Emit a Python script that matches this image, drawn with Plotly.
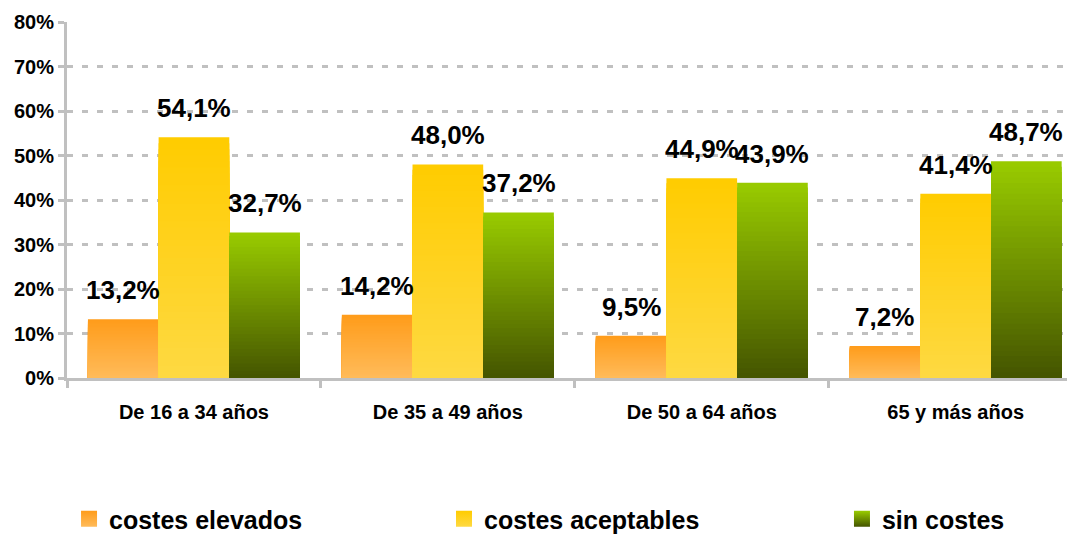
import plotly.graph_objects as go

# ---- data ----
categories = ["De 16 a 34 años", "De 35 a 49 años", "De 50 a 64 años", "65 y más años"]
series_names = ["costes elevados", "costes aceptables", "sin costes"]
costes_elevados = [13.2, 14.2, 9.5, 7.2]
costes_aceptables = [54.1, 48.0, 44.9, 41.4]
sin_costes = [32.7, 37.2, 43.9, 48.7]
y_tick_values = [0, 10, 20, 30, 40, 50, 60, 70, 80]
y_tick_labels = ["0%", "10%", "20%", "30%", "40%", "50%", "60%", "70%", "80%"]

# ---- styles ----
FONT = "Liberation Sans, Arial, sans-serif"
top_colors = [(255, 156, 26), (255, 204, 0), (153, 204, 0)]
bottom_colors = [(255, 187, 90), (254, 217, 66), (68, 84, 0)]
legend_ids = ["legend", "legend2", "legend3"]
legend_x = [0.0572, 0.4086, 0.7816]
N_SLICES = 40
BAR_PX = 70.7
FIG_W, FIG_H = 1067, 528  # page body adds an 8px offset

def mix(c1, c2, t):
    return "rgb(%d,%d,%d)" % tuple(round(a + (b - a) * t) for a, b in zip(c1, c2))

fig = go.Figure()
all_series = [costes_elevados, costes_aceptables, sin_costes]
for si, (name, vals) in enumerate(zip(series_names, all_series)):
    top, bot = top_colors[si], bottom_colors[si]
    # overlapping layers (tallest first) to build a vertical gradient without seams
    for k in range(N_SLICES - 1, -1, -1):
        frac = (k + 1) / N_SLICES
        t = (k + 0.5) / N_SLICES
        fig.add_trace(go.Bar(
            x=categories,
            y=[v * frac for v in vals],
            offsetgroup=name,
            marker=dict(color=mix(bot, top, t), line=dict(width=0)),
            showlegend=False,
            hoverinfo="skip",
        ))
    # legend entry
    fig.add_trace(go.Scatter(
        x=[None], y=[None], mode="markers", name=name,
        marker=dict(symbol="square", size=16, color=mix(top, top, 0),
                    gradient=dict(type="vertical", color=mix(bot, bot, 0))),
        legend=legend_ids[si],
    ))
    # data labels
    for cat, v in zip(categories, vals):
        fig.add_annotation(
            x=cat, y=v, xref="x", yref="y",
            text=("%.1f" % v).replace(".", ",") + "%",
            showarrow=False, xshift=(si - 1) * BAR_PX, yshift=29,
            yanchor="middle", xanchor="center",
            font=dict(family=FONT, size=26, color="#000000", weight="bold"),
        )

legend_common = dict(
    orientation="h", yanchor="middle", xanchor="left",
    xref="container", yref="container", y=17 / FIG_H,
    font=dict(family=FONT, size=25, color="#000000", weight="bold"),
    bgcolor="rgba(0,0,0,0)", borderwidth=0,
)
fig.update_layout(
    width=FIG_W, height=FIG_H,
    margin=dict(l=59, r=0, t=14, b=157.5, autoexpand=False),
    paper_bgcolor="white", plot_bgcolor="white",
    barmode="group", bargap=0.165, bargroupgap=0,
    font=dict(family=FONT, color="#000000"),
    legend=dict(x=legend_x[0], **legend_common),
    legend2=dict(x=legend_x[1], **legend_common),
    legend3=dict(x=legend_x[2], **legend_common),
    xaxis=dict(
        type="category", range=[-0.5, 3.47],
        showline=True, linecolor="#c0c0c0", linewidth=3,
        ticks="outside", tickson="boundaries", ticklen=7, tickwidth=3, tickcolor="#c0c0c0",
        tickfont=dict(family=FONT, size=20, color="#000000", weight="bold"),
        ticklabelstandoff=14, showgrid=False, zeroline=False,
    ),
    yaxis=dict(
        range=[0, 80], tickvals=y_tick_values, ticktext=y_tick_labels,
        showgrid=True, gridcolor="#c0c0c0", griddash="6px,9px", gridwidth=2.5,
        showline=True, linecolor="#c0c0c0", linewidth=3,
        ticks="outside", ticklen=6, tickwidth=3, tickcolor="#c0c0c0",
        tickfont=dict(family=FONT, size=20, color="#000000", weight="bold"),
        ticklabelstandoff=0, zeroline=False,
    ),
    hovermode=False,
)

fig.write_html("out.html")
